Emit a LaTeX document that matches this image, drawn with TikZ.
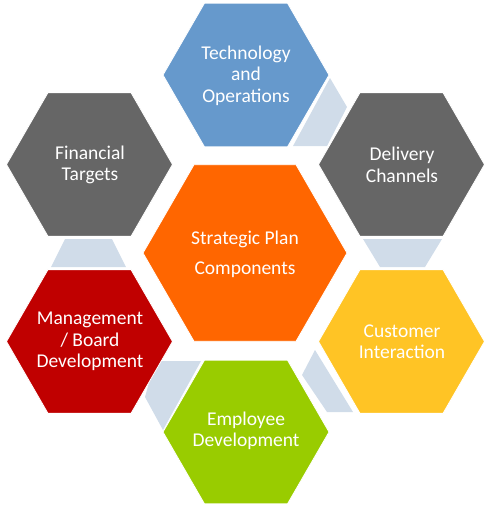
\documentclass[tikz,border=0pt]{standalone}
\usepackage{fontspec}
\setmainfont{Carlito}
\usetikzlibrary{shapes.geometric}
\definecolor{hexblue}{HTML}{6699CC}
\definecolor{hexgray}{HTML}{666666}
\definecolor{hexorange}{HTML}{FF6600}
\definecolor{hexred}{HTML}{C00000}
\definecolor{hexgreen}{HTML}{99CC00}
\definecolor{hexyellow}{HTML}{FFC425}
\definecolor{linkfill}{HTML}{D0DCE9}
\tikzset{
  hexa/.style={regular polygon, regular polygon sides=6, minimum size=166pt,
    inner sep=0pt, outer sep=0pt, draw=white, line width=0.8pt},
  bighexa/.style={hexa, minimum size=204pt},
  hextext/.style={text=white, align=center, font=\fontsize{19.5}{21.5}\selectfont, inner sep=0pt},
  link/.style={fill=linkfill}
}
\begin{document}
\begin{tikzpicture}[x=1pt,y=-1pt]
\useasboundingbox (0,0) rectangle (492,507);
% linking shapes (behind)
\fill[link] (330,78) -- (347,107) -- (327,146) -- (293,146) -- cycle;
\fill[link] (65,239) -- (112,239) -- (126,267) -- (51,267) -- cycle;
\fill[link] (363,239) -- (442,239) -- (425,267) -- (380,267) -- cycle;
\fill[link] (155,361) -- (201,361) -- (163,430) -- (145,397) -- cycle;
\fill[link] (315,350) -- (353,412) -- (327,412) -- (302,375) -- cycle;
% hexagons
\node[hexa, fill=hexblue]   (tech)  at (246,75) {};
\node[hexa, fill=hexgray]   (fin)   at (89.5,164.5) {};
\node[hexa, fill=hexgray]   (deliv) at (401.5,164.5) {};
\node[bighexa, fill=hexorange] (strat) at (245,253) {};
\node[hexa, fill=hexred]    (mgmt)  at (89.5,341.5) {};
\node[hexa, fill=hexyellow] (cust)  at (401.5,341.5) {};
\node[hexa, fill=hexgreen]  (emp)   at (246,432) {};
% texts
\node[hextext] (techt)  at (246,75.5)     {Technology\\and\\Operations};
\node[hextext] (fint)   at (90,165)       {Financial\\Targets};
\node[hextext] (delivt) at (402,165)      {Delivery\\Channels};
\node[hextext, font=\fontsize{19.5}{30}\selectfont] (stratt) at (245,254) {Strategic Plan\\Components};
\node[hextext] (mgmtt)  at (90,341.5)     {Management\\/ Board\\Development};
\node[hextext] (custt)  at (402,341.5)    {Customer\\Interaction};
\node[hextext] (empt)   at (246,431)      {Employee\\Development};
\end{tikzpicture}
\end{document}
